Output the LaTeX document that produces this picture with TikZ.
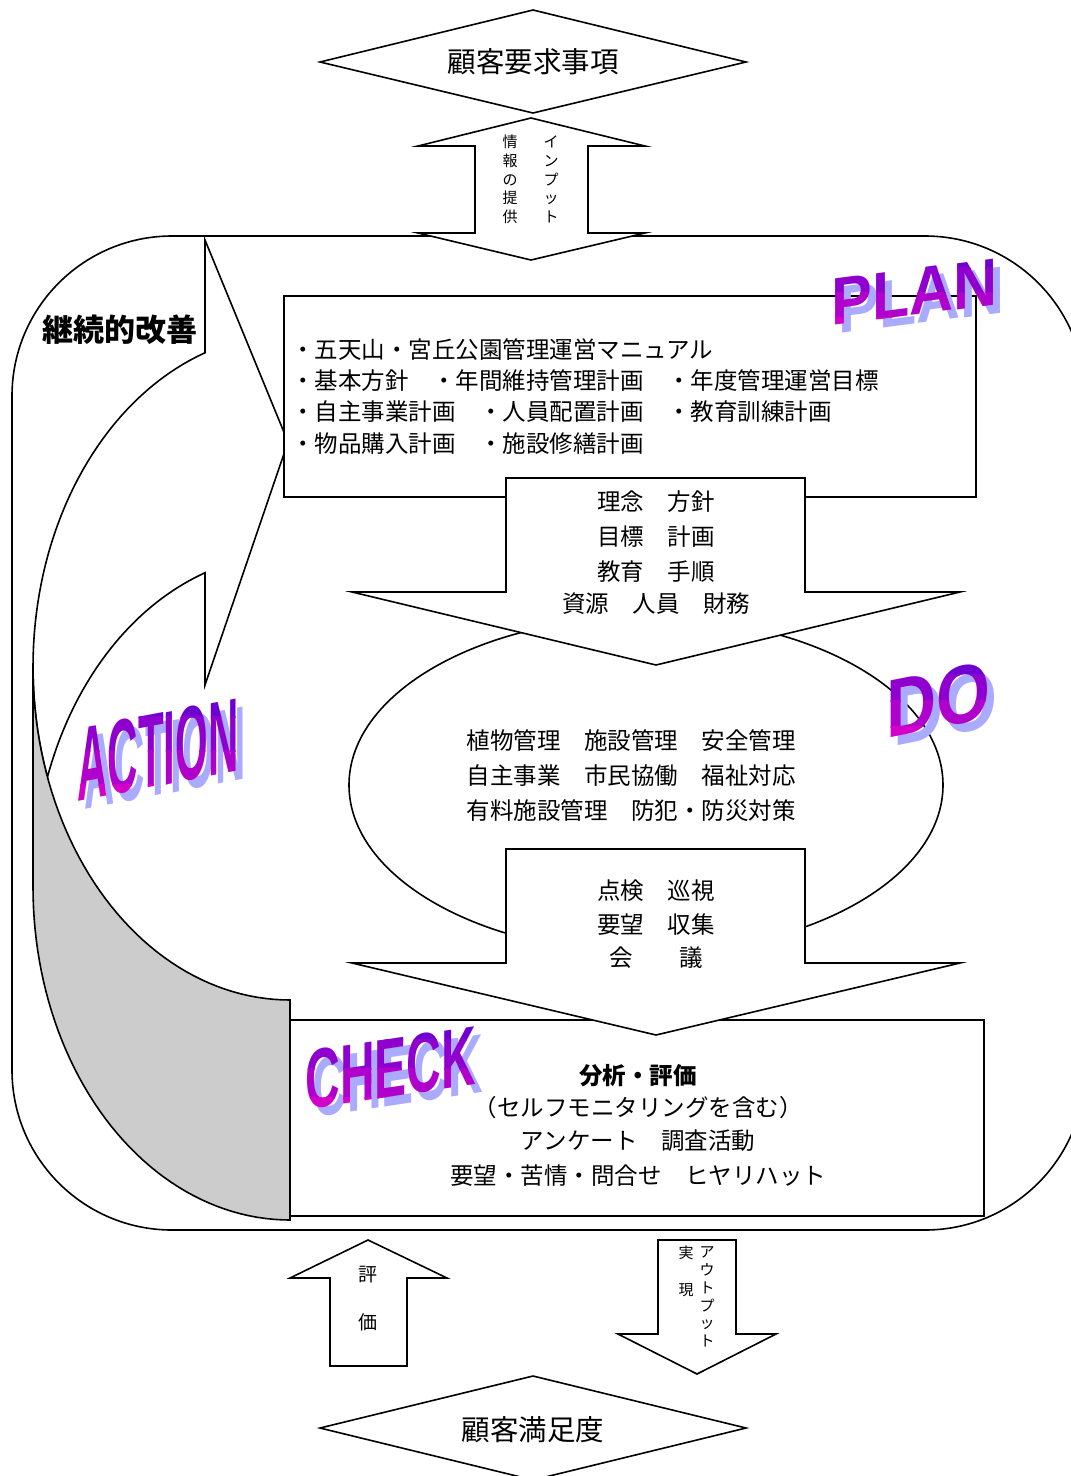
\documentclass[tikz,border=0pt]{standalone}
\usepackage{fontspec}
\usepackage{xcolor}
\usepackage{tikz}
\usetikzlibrary{calc}

\newfontfamily\jp{Noto Sans CJK JP}
\newfontfamily\artfont{Liberation Sans}

\definecolor{artmag}{RGB}{210,0,200}
\definecolor{artvio}{RGB}{110,0,210}
\definecolor{artshade}{RGB}{170,170,255}
\definecolor{backgrey}{RGB}{204,204,204}

% word art: name, centre, half height, font size, transform, word
\newcommand{\artword}[6]{%
  \node[artshadow, font=\artfont\bfseries\fontsize{#4}{#4}\selectfont, #5] (#1shadow) at ($(#2)+(7,8)$) {#6};
  \foreach \k in {0,...,3} {
    \pgfmathtruncatemacro{\mixv}{100*\k/3}
    \begin{scope}
      \clip ($(#2)+(-220,{-#3+#3*\k/2})$) rectangle ++(440,{#3/2+1});
      \node[artfront, text=artmag!\mixv!artvio, font=\artfont\bfseries\fontsize{#4}{#4}\selectfont, #5] (#1\k) at (#2) {#6};
    \end{scope}}}

\begin{document}
\begin{tikzpicture}[x=1pt, y=-1pt,
    outline/.style={draw, line width=1.6pt, fill=white, line join=miter},
    jtext/.style={font=\jp\fontsize{23.5}{23.5}\selectfont, inner sep=0pt},
    jbig/.style={font=\jp\fontsize{28.5}{28.5}\selectfont, inner sep=0pt},
    jvert/.style={font=\jp\fontsize{15}{18.75}\selectfont, align=center, inner sep=0pt},
    artshadow/.style={text=artshade, inner sep=0pt},
    artfront/.style={inner sep=0pt}]

\fill[white] (0,0) rectangle (1071,1476);
\useasboundingbox (0,0) rectangle (1071,1476);

% frame of the cycle
\draw[line width=1.6pt, rounded corners=160pt] (12,236) rectangle (1085,1230);

% customer requirements and input
\draw[outline] (320,62) -- (533,10) -- (746,62) -- (533,113) -- cycle;
\draw[outline] (531,118) -- (645,146) -- (588,146) -- (588,233) -- (645,233) -- (531,260)
   -- (418,233) -- (475,233) -- (475,146) -- (418,146) -- cycle;

% ACTION arrow, front band
\draw[outline] (205,352) -- (205,240) -- (288,442) -- (205,685) -- (205,573)
   -- plot[domain=70.69:19.29, samples=40] ({290-257*cos(\x)}, {887-333*sin(\x)})
   -- plot[domain=19.29:0, samples=15] ({290-257*cos(\x)}, {667+333*sin(\x)})
   -- plot[domain=0:70.69, samples=40] ({290-257*cos(\x)}, {667-333*sin(\x)})
   -- cycle;

% PLAN
\draw[outline] (284,296) rectangle (976,497);

% DO
\draw[outline] (646,785) ellipse [x radius=297, y radius=168];

% CHECK
\draw[outline] (290,1020) rectangle (984,1216);

% down arrows
\draw[outline] (506,478) -- (805,478) -- (805,592) -- (960,592) -- (656,665)
   -- (352,592) -- (506,592) -- cycle;
\draw[outline] (506,849) -- (805,849) -- (805,963) -- (960,963) -- (656,1035)
   -- (352,963) -- (506,963) -- cycle;

% ACTION arrow, back band
\draw[outline, fill=backgrey] plot[domain=0:90, samples=50] ({290-257*cos(\x)}, {667+333*sin(\x)})
   -- (290,1220)
   -- plot[domain=90:0, samples=50] ({290-257*cos(\x)}, {887+333*sin(\x)}) -- cycle;

% evaluation and output
\draw[outline] (368,1240) -- (447,1278) -- (407,1278) -- (407,1366) -- (330,1366)
   -- (330,1278) -- (290,1278) -- cycle;
\draw[outline] (658,1240) -- (736,1240) -- (736,1334) -- (776,1334) -- (697,1374)
   -- (618,1334) -- (658,1334) -- cycle;
\draw[outline] (320,1428) -- (533,1376) -- (746,1428) -- (533,1480) -- cycle;

% texts
\node[jbig] (request) at (533,62) {顧客要求事項};
\node[jbig] (satisfy) at (533,1430) {顧客満足度};
\node[jvert] (joho) at (510,179.5) {情\\報\\の\\提\\供};
\node[jvert] (input) at (551,179.5) {イ\\ン\\プ\\ッ\\ト};
\node[jvert, font=\jp\fontsize{19}{24}\selectfont] (hyoka) at (368,1299) {評\\　\\価};
\node[jvert, font=\jp\fontsize{15}{18.5}\selectfont] (jitsugen) at (686,1271.5) {実\\　\\現};
\node[jvert, font=\jp\fontsize{15}{17.8}\selectfont] (output) at (707,1297) {ア\\ウ\\ト\\プ\\ッ\\ト};

\foreach \row [count=\i] in {{・五天山・宮丘公園管理運営マニュアル},
    {・基本方針　・年間維持管理計画　・年度管理運営目標},
    {・自主事業計画　・人員配置計画　・教育訓練計画},
    {・物品購入計画　・施設修繕計画}}
  \node[jtext, anchor=west] (plantext\i) at (291,{318+31.3*\i}) {\row};

\foreach \y/\row [count=\i] in {502/理念　方針, 537/目標　計画, 572/教育　手順, 604/資源　人員　財務}
  \node[jtext] (policy\i) at (656,\y) {\row};

\foreach \y/\row [count=\i] in {741/植物管理　施設管理　安全管理, 776/自主事業　市民協働　福祉対応,
    811/有料施設管理　防犯・防災対策}
  \node[jtext] (dotext\i) at (631,\y) {\row};

\foreach \y/\row [count=\i] in {891/点検　巡視, 925/要望　収集, 958/会　　議}
  \node[jtext] (patrol\i) at (656,\y) {\row};

\node[jtext, font=\jp\bfseries\fontsize{23.5}{23.5}\selectfont] (analysis) at (638,1076) {分析・評価};
\foreach \y/\row [count=\i] in {1108/（セルフモニタリングを含む）, 1141/アンケート　調査活動,
    1176/要望・苦情・問合せ　ヒヤリハット}
  \node[jtext] (checktext\i) at (638,\y) {\row};

\node[font=\jp\bfseries\fontsize{31}{31}\selectfont, inner sep=0pt] (kaizen) at (120,330) {継続的改善};

% word art
\artword{planart}{915,292}{50}{61}{yslant=0.13, yscale=1.1}{PLAN}
\artword{doart}{938,700}{52}{66}{yslant=0.2, yscale=1.25, xscale=1.05}{DO}
\artword{actionart}{158,750}{68}{42}{yslant=0.19, yscale=2.5}{ACTION}
\artword{checkart}{391,1068}{58}{48}{yslant=0.15, yscale=1.75}{CHECK}
\end{tikzpicture}
\end{document}
